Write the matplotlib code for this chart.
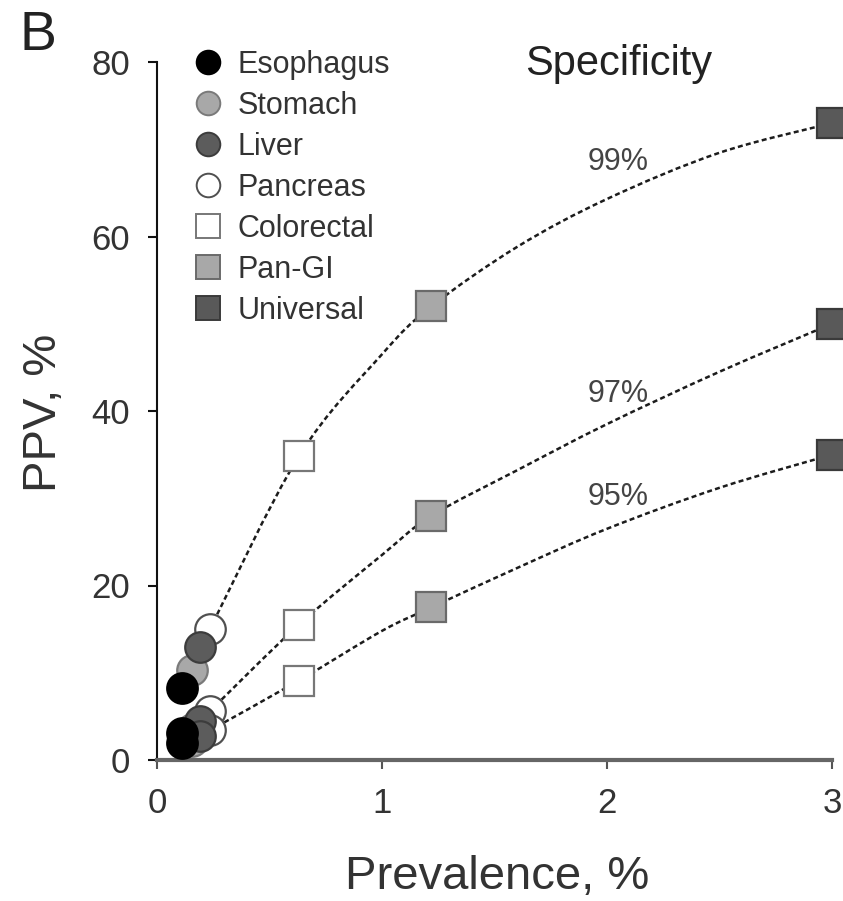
import numpy as np
import matplotlib
matplotlib.use("Agg")
import matplotlib.pyplot as plt
from matplotlib.path import Path
from matplotlib.patches import PathPatch
from matplotlib.lines import Line2D

plt.rcParams['font.family'] = ['Liberation Sans', 'DejaVu Sans']

# cancer types: prevalence (%) and PPV (%) at 99 / 97 / 95 % specificity
cancers = ["Esophagus", "Stomach", "Liver", "Pancreas", "Colorectal", "Pan-GI", "Universal"]
prevalence = [0.11, 0.155, 0.19, 0.235, 0.63, 1.22, 3.0]
ppv_99 = [8.3, 10.3, 13.0, 15.0, 34.8, 52.0, 73.0]
ppv_97 = [3.1, 3.6, 4.5, 5.6, 15.5, 28.0, 50.0]
ppv_95 = [1.9, 2.2, 2.8, 3.4, 9.1, 17.5, 35.0]

# specificity curves
curve_x = [0.235, 0.63, 1.0, 1.22, 1.6, 2.0, 2.5, 3.0]
curve_99 = [15.0, 34.8, 46.5, 52.0, 58.8, 64.3, 69.6, 73.0]
curve_97 = [5.6, 15.5, 23.5, 28.0, 33.2, 38.5, 44.5, 50.0]
curve_95 = [3.4, 9.1, 14.8, 17.5, 22.0, 26.5, 31.2, 35.0]
spec_labels = ["99%", "97%", "95%"]

# marker styles per cancer type
markers = ['o', 'o', 'o', 'o', 's', 's', 's']
face = ['#000000', '#a8a8a8', '#5c5c5c', '#ffffff', '#ffffff', '#a8a8a8', '#595959']
edge = ['#000000', '#7a7a7a', '#3c3c3c', '#505050', '#777777', '#6a6a6a', '#3a3a3a']
draw_order = [6, 5, 4, 3, 1, 2, 0]


def smooth_path(xs, ys):
    pts = np.column_stack([xs, ys])
    verts = [pts[0]]
    codes = [Path.MOVETO]
    n = len(pts)
    for i in range(n - 1):
        p0 = pts[i - 1] if i > 0 else pts[i]
        p1 = pts[i]
        p2 = pts[i + 1]
        p3 = pts[i + 2] if i + 2 < n else pts[i + 1]
        verts += [p1 + (p2 - p0) / 6, p2 - (p3 - p1) / 6, p2]
        codes += [Path.CURVE4] * 3
    return Path(verts, codes)


fig = plt.figure(figsize=(8.43, 9.01), dpi=100)
ax = fig.add_axes([157 / 843, 1 - 760 / 901, 675 / 843, 698 / 901])

for cy in (curve_99, curve_97, curve_95):
    patch = PathPatch(smooth_path(curve_x, cy), fill=False, ls=(0, (2, 1.3)),
                      lw=1.8, ec='#1c1c1c', zorder=2, clip_on=False)
    ax.add_patch(patch)

for i in draw_order:
    ax.plot([prevalence[i]] * 3, [ppv_99[i], ppv_97[i], ppv_95[i]], ls='none',
            marker=markers[i], ms=22, mfc=face[i], mec=edge[i], mew=1.6,
            clip_on=False, zorder=3 + draw_order.index(i))

# specificity labels
ax.text(2.05, 68.5, spec_labels[0], ha='center', va='center', fontsize=22, color='#444444')
ax.text(2.05, 42.0, spec_labels[1], ha='center', va='center', fontsize=22, color='#444444')
ax.text(2.05, 30.2, spec_labels[2], ha='center', va='center', fontsize=22, color='#444444')

ax.set_xlim(0, 3)
ax.set_ylim(0, 80)
ax.set_xticks([0, 1, 2, 3])
ax.set_yticks([0, 20, 40, 60, 80])
ax.spines['top'].set_visible(False)
ax.spines['right'].set_visible(False)
ax.spines['bottom'].set_linewidth(3)
ax.spines['bottom'].set_color('#666666')
ax.spines['left'].set_linewidth(1.5)
ax.spines['left'].set_color('#111111')
ax.tick_params(axis='both', direction='out', length=6.5, width=1.5,
               labelsize=25, pad=13, labelcolor='#333333')
ax.tick_params(axis='x', color='#555555')
ax.tick_params(axis='y', color='#111111')

handles = [Line2D([], [], ls='none', marker=markers[i], ms=17, mfc=face[i],
                  mec=edge[i], mew=1.4) for i in range(len(cancers))]
ax.legend(handles, cancers, loc='upper left', bbox_to_anchor=(193 / 843, 1 - 50 / 901),
          bbox_transform=fig.transFigure, frameon=False, borderpad=0, borderaxespad=0,
          handlelength=1.0, handletextpad=0.45, labelspacing=0.36, fontsize=22,
          labelcolor='#333333')

fig.text(19 / 843, 1 - 50 / 901, 'B', fontsize=40, ha='left', va='baseline', color='#222222')
fig.text(525 / 843, 1 - 75 / 901, 'Specificity', fontsize=30, ha='left', va='baseline',
         color='#222222')
fig.text(497 / 843, 1 - 889 / 901, 'Prevalence, %', fontsize=34, ha='center',
         va='baseline', color='#333333')
fig.text(43.5 / 843, 1 - 413 / 901, 'PPV, %', fontsize=34, rotation=90, ha='center',
         va='center', color='#333333')

fig.savefig('out.png', dpi=100)
